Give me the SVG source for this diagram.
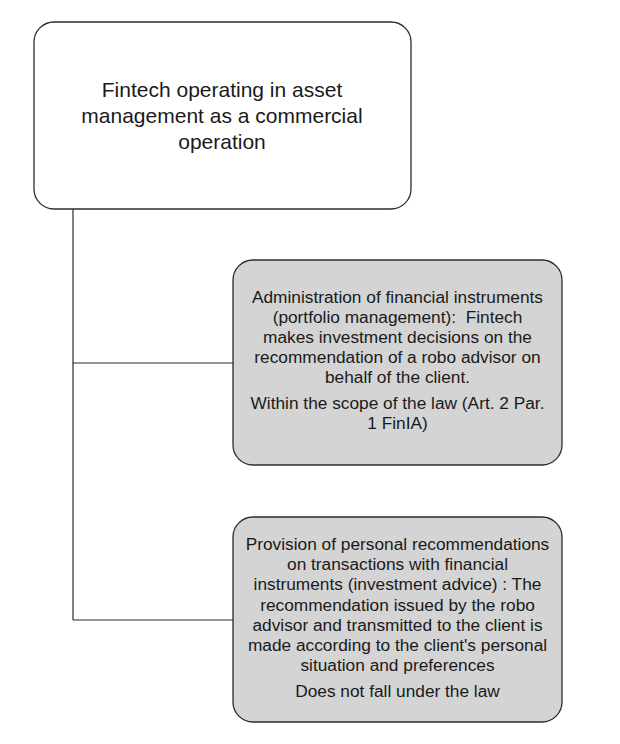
<svg xmlns="http://www.w3.org/2000/svg" width="620" height="744" viewBox="0 0 620 744">
<style>
.box{stroke:#2b2b2b;stroke-width:1.3}
.top{fill:#ffffff}
.gray{fill:#d4d4d4}
.conn{stroke:#2b2b2b;stroke-width:1.2;fill:none}
text{font-family:"Liberation Sans",Arial,sans-serif;fill:#1a1a1a;text-anchor:middle}
.t1{font-size:21px}
.t2{font-size:17.3px}
</style>
<rect width="620" height="744" fill="#ffffff"/>
<g id="connectors">
<path class="conn" d="M73,209 V620 M73,363 H233 M73,620 H233"/>
</g>
<g id="node-root">
<rect class="box top" x="34" y="22" width="377" height="187" rx="20"/>
<text class="t1" x="222" y="97">Fintech operating in asset</text>
<text class="t1" x="222" y="123">management as a commercial</text>
<text class="t1" x="222" y="149">operation</text>
</g>
<g id="node-portfolio">
<rect class="box gray" x="233" y="260" width="329" height="205" rx="20"/>
<text class="t2" x="397.5" y="303">Administration of financial instruments</text>
<text class="t2" x="397.5" y="323" xml:space="preserve">(portfolio management):  Fintech</text>
<text class="t2" x="397.5" y="343">makes investment decisions on the</text>
<text class="t2" x="397.5" y="363">recommendation of a robo advisor on</text>
<text class="t2" x="397.5" y="383">behalf of the client.</text>
<text class="t2" x="397.5" y="409">Within the scope of the law (Art. 2 Par.</text>
<text class="t2" x="397.5" y="429">1 FinIA)</text>
</g>
<g id="node-advice">
<rect class="box gray" x="233" y="517" width="329" height="205" rx="20"/>
<text class="t2" x="397.5" y="550">Provision of personal recommendations</text>
<text class="t2" x="397.5" y="570">on transactions with financial</text>
<text class="t2" x="397.5" y="590">instruments (investment advice) : The</text>
<text class="t2" x="397.5" y="611">recommendation issued by the robo</text>
<text class="t2" x="397.5" y="631">advisor and transmitted to the client is</text>
<text class="t2" x="397.5" y="651">made according to the client's personal</text>
<text class="t2" x="397.5" y="671">situation and preferences</text>
<text class="t2" x="397.5" y="697">Does not fall under the law</text>
</g>
</svg>
